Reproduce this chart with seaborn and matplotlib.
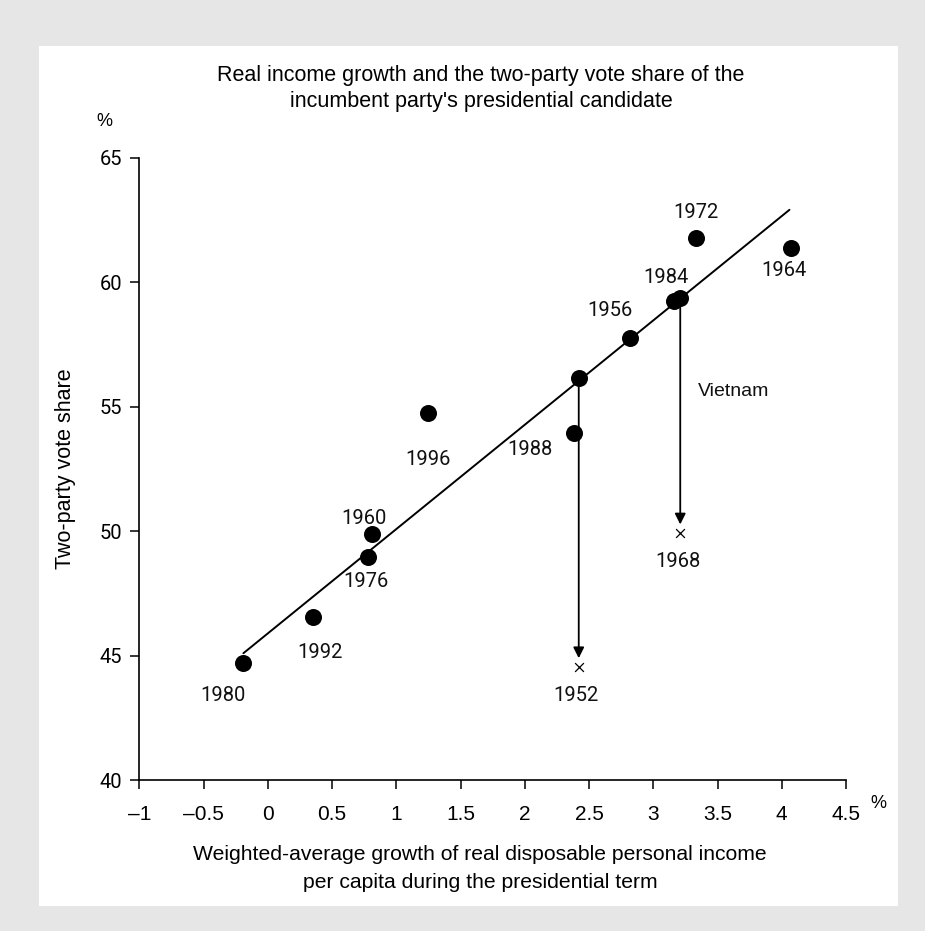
# import necessary libraries
import numpy as np
import pandas as pd
import seaborn as sns
import matplotlib.pyplot as plt
from matplotlib.patches import Rectangle

# data
years = ["1956", "1960", "1964", "1972", "1976", "1980", "1984", "1988", "1992", "1996"]
growth = [2.82, 0.81, 4.07, 3.33, 0.78, -0.19, 3.16, 2.38, 0.35, 1.25]
vote = [57.75, 49.88, 61.36, 61.76, 48.98, 44.70, 59.22, 53.93, 46.54, 54.73]

# counterfactual points (on the line) and actual results for 1952 and 1968
cf_years = ["1952", "1968"]
cf_growth = [2.42, 3.21]
cf_vote = [56.14, 59.35]
actual_vote = [44.55, 49.92]

# fitted line end points
line_x = [-0.19, 4.06]
line_y = [45.1, 62.9]

# label positions for each year (x, y)
label_pos = {
    "1956": (2.66, 58.86), "1960": (0.75, 50.52), "1964": (4.02, 60.46),
    "1972": (3.33, 62.78), "1976": (0.76, 47.97), "1980": (-0.35, 43.42),
    "1984": (3.10, 60.18), "1988": (2.04, 53.29), "1992": (0.41, 45.15),
    "1996": (1.25, 52.86), "1952": (2.40, 43.40), "1968": (3.19, 48.77),
}

xticks = [-1, -0.5, 0, 0.5, 1, 1.5, 2, 2.5, 3, 3.5, 4, 4.5]
xticklabels = ["\u20131", "\u20130.5", "0", "0.5", "1", "1.5", "2", "2.5", "3", "3.5", "4", "4.5"]
yticks = [40, 45, 50, 55, 60, 65]

sns.set_style("ticks")
narrow = ["Liberation Sans", "DejaVu Sans"]
plt.rcParams["font.family"] = ["Roboto", "DejaVu Sans"]
plt.rcParams["text.color"] = "black"

fig = plt.figure(figsize=(9.25, 9.31), dpi=100, facecolor="#e6e6e6")
W, H = 925, 931
fig.patches.append(Rectangle((39 / W, 1 - 906 / H), (898 - 39) / W, (906 - 46) / H,
                             transform=fig.transFigure, facecolor="white", edgecolor="none", zorder=-10))

ax = fig.add_axes([139.3 / W, 1 - 780.3 / H, (846 - 139.3) / W, (780.3 - 157.5) / H])
ax.set_zorder(2)
ax.patch.set_alpha(0)

# regression line
sns.lineplot(x=line_x, y=line_y, color="black", linewidth=1.4, ax=ax)

# dots
df = pd.DataFrame({"growth": growth + cf_growth, "vote": vote + cf_vote})
sns.scatterplot(data=df, x="growth", y="vote", color="black", s=150, edgecolor="black",
                linewidth=0, ax=ax, zorder=3)

# actual 1952/1968 results
ax.scatter(cf_growth, actual_vote, marker="x", s=40, color="black", linewidth=0.9, zorder=3)

# arrows from predicted to actual
for gx, cv, av in zip(cf_growth, cf_vote, actual_vote):
    ax.annotate("", xy=(gx, av + 0.35), xytext=(gx, cv - 0.35),
                arrowprops=dict(arrowstyle="-|>", color="black", lw=1.3,
                                mutation_scale=16, shrinkA=0, shrinkB=0))

for yr, (lx, ly) in label_pos.items():
    ax.text(lx, ly, yr, ha="center", va="center", fontsize=14.5, color="#111111")
ax.text(3.35, 55.59, "Vietnam", ha="left", va="center", fontsize=14, color="#111111",
        family=narrow)

ax.set_xlim(-1, 4.5)
ax.set_ylim(40, 65)
ax.set_xticks(xticks)
ax.set_xticklabels(xticklabels, family=narrow, fontsize=15)
ax.set_yticks(yticks)
ax.set_yticklabels([str(v) for v in yticks], fontsize=14.5)
ax.tick_params(axis="x", length=6.5, width=1.1, pad=11, colors="black")
ax.tick_params(axis="y", length=6.5, width=1.1, pad=6, colors="black")
ax.set_xlabel("")
ax.set_ylabel("")
sns.despine(ax=ax)
for sp in ["left", "bottom"]:
    ax.spines[sp].set_linewidth(1.2)
    ax.spines[sp].set_color("black")

# titles and axis texts
fig.text(481 / W, 1 - 75 / H, "Real income growth and the two-party vote share of the",
         ha="center", va="center", family=narrow, fontsize=15.5)
fig.text(481 / W, 1 - 102 / H, "incumbent party's presidential candidate",
         ha="center", va="center", family=narrow, fontsize=15.5)
fig.text(104 / W, 1 - 122 / H, "%", ha="center", va="center", family=narrow, fontsize=13)
fig.text(878 / W, 1 - 803 / H, "%", ha="center", va="center", family=narrow, fontsize=13)
fig.text(66 / W, 1 - 469 / H, "Two-party vote share", rotation=90,
         ha="center", va="center", family=narrow, fontsize=15.5)
fig.text(480 / W, 1 - 855 / H, "Weighted-average growth of real disposable personal income",
         ha="center", va="center", family=narrow, fontsize=15.2)
fig.text(480 / W, 1 - 883 / H, "per capita during the presidential term",
         ha="center", va="center", family=narrow, fontsize=15.2)

fig.savefig("out.png", dpi=100, facecolor=fig.get_facecolor())
